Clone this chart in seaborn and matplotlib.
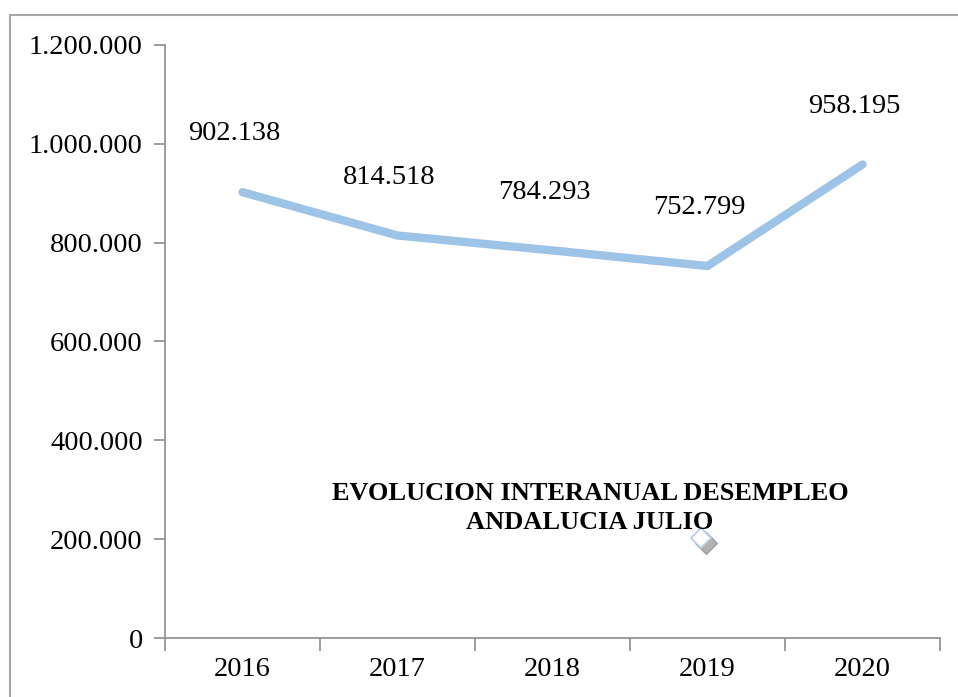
import numpy as np
import pandas as pd
import matplotlib
matplotlib.use("Agg")
import matplotlib.pyplot as plt
import seaborn as sns
from matplotlib.patches import Rectangle
from matplotlib.lines import Line2D
from matplotlib.ticker import FuncFormatter, FixedLocator

# ===================== DATA =====================
years = ["2016", "2017", "2018", "2019", "2020"]
parados = [902138, 814518, 784293, 752799, 958195]
labels = ["902.138", "814.518", "784.293", "752.799", "958.195"]
y_ticks = [0, 200000, 400000, 600000, 800000, 1000000, 1200000]

df = pd.DataFrame({"pos": np.arange(len(years)), "parados": parados})

# ===================== STYLE =====================
sns.set_style("white")
plt.rcParams["font.family"] = ["Liberation Serif", "DejaVu Serif"]
plt.rcParams["text.color"] = "black"

W, H = 958, 697
fig = plt.figure(figsize=(W / 100, H / 100), dpi=100)
ax = fig.add_axes([165 / W, 59 / H, 775 / W, 593 / H])

# outer chart border
fig.patches.append(Rectangle((10 / W, -0.01), 1.0, (H - 15) / H + 0.01,
                             transform=fig.transFigure, fill=False,
                             edgecolor="#a6a6a6", linewidth=1.5))

# ===================== LINE =====================
sns.lineplot(data=df, x="pos", y="parados", ax=ax, color="#9dc3e6",
             linewidth=6, solid_capstyle="round", solid_joinstyle="miter")

for i, txt in enumerate(labels):
    ax.annotate(txt, (i, parados[i]), xytext=(-6, 42), textcoords="offset points",
                ha="center", va="center", fontsize=20.5, color="black")

# ===================== AXES =====================
ax.set_xlim(-0.5, len(years) - 0.5)
ax.set_ylim(0, 1200000)
ax.set_xlabel("")
ax.set_ylabel("")

ax.set_xticks(np.arange(len(years)))
ax.set_xticklabels(years)
ax.xaxis.set_minor_locator(FixedLocator(np.arange(-0.5, len(years), 1.0)))
ax.tick_params(axis="x", which="major", length=0, labelsize=20.5, pad=14,
               labelcolor="black")
ax.tick_params(axis="x", which="minor", length=9, width=1.2, color="#8c8c8c",
               direction="out", bottom=True)

ax.set_yticks(y_ticks)
ax.yaxis.set_major_formatter(FuncFormatter(lambda v, p: f"{int(v):,}".replace(",", ".")))
ax.tick_params(axis="y", length=8, width=1.2, color="#8c8c8c", direction="out",
               left=True, labelsize=20.5, pad=8, labelcolor="black")

for side in ["top", "right"]:
    ax.spines[side].set_visible(False)
for side in ["left", "bottom"]:
    ax.spines[side].set_color("#8c8c8c")
    ax.spines[side].set_linewidth(1.2)

# ===================== TITLE =====================
fig.text(590 / W, 1 - 508 / H, "EVOLUCION INTERANUAL DESEMPLEO\nANDALUCIA JULIO",
         ha="center", va="center", fontsize=19, fontweight="bold",
         linespacing=1.38, color="black")

# small selection handle left over in the source image
fig.add_artist(Line2D([706 / W], [1 - 543 / H], marker="D", markersize=11,
                      color="#7f7f7f", alpha=0.6, transform=fig.transFigure))
fig.add_artist(Line2D([701 / W], [1 - 538 / H], marker="D", markersize=10,
                      markerfacecolor="white", markeredgecolor="#b4cde8",
                      markeredgewidth=1.2, transform=fig.transFigure))

plt.savefig("out.png", dpi=100)
plt.close()
